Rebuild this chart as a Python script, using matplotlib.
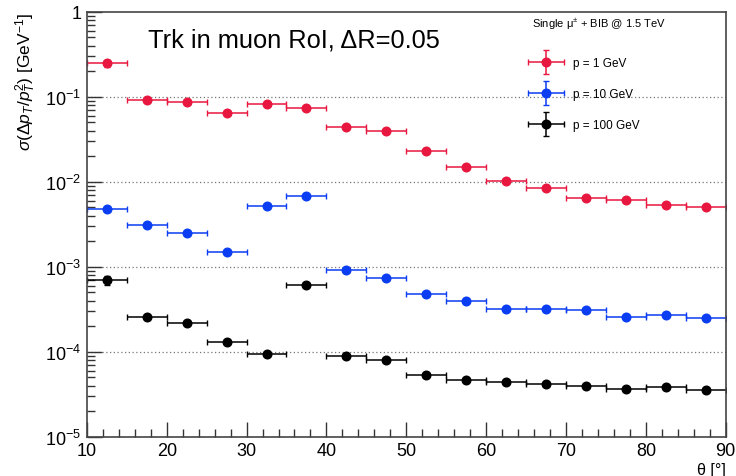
"""Track pT resolution vs theta, muon RoI, three momenta (ROOT-style log plot)."""
import numpy as np
import matplotlib
matplotlib.use("Agg")
import matplotlib.pyplot as plt
from matplotlib.legend_handler import HandlerErrorbar
from matplotlib.ticker import FixedLocator, LogLocator, MultipleLocator, NullFormatter

plt.rcParams["font.family"] = ["Liberation Sans", "DejaVu Sans"]
plt.rcParams["mathtext.fontset"] = "custom"
plt.rcParams["mathtext.rm"] = "Liberation Sans"
plt.rcParams["mathtext.it"] = "Liberation Sans:italic"

# bin centres in theta [deg], half width 2.5
theta = [12.5, 17.5, 22.5, 27.5, 32.5, 37.5, 42.5, 47.5,
         52.5, 57.5, 62.5, 67.5, 72.5, 77.5, 82.5, 87.5]
theta_err = [2.5] * len(theta)

res_1gev = [0.25, 0.092, 0.087, 0.065, 0.083, 0.074, 0.044, 0.040,
            0.023, 0.015, 0.0102, 0.0085, 0.0065, 0.0061, 0.0054, 0.0051]
res_10gev = [0.0048, 0.0031, 0.0025, 0.0015, 0.0052, 0.0069, 0.00093, 0.00074,
             0.00048, 0.00040, 0.00032, 0.00032, 0.00031, 0.00026, 0.00027, 0.00025]
res_100gev = [0.0007, 0.00026, 0.00022, 0.00013, 0.000095, 0.00061, 0.00009, 0.000081,
              0.000054, 0.000047, 0.000044, 0.000042, 0.00004, 0.000037, 0.000039, 0.000036]

err_1gev = [0.025] + [0.0] * 15
err_10gev = [0.0003] + [0.0] * 15
err_100gev = [0.00009] + [0.0] * 15

series = [
    ("p = 1 GeV", res_1gev, err_1gev, "#e8173f"),
    ("p = 10 GeV", res_10gev, err_10gev, "#0b3df2"),
    ("p = 100 GeV", res_100gev, err_100gev, "#000000"),
]

fig = plt.figure(figsize=(7.36, 4.77), dpi=100)
ax = fig.add_axes([0.118, 0.082, 0.868, 0.891])

handles = []
for label, vals, errs, col in series:
    h = ax.errorbar(theta, vals, xerr=theta_err, yerr=errs, fmt="o", color=col,
                    ms=6.2, elinewidth=1.1, capsize=2.2, capthick=1.0, label=label)
    handles.append(h)

ax.set_yscale("log")
ax.set_xlim(10, 90)
ax.set_ylim(1e-5, 1)

decades = [1e-5, 1e-4, 1e-3, 1e-2, 1e-1, 1]
ax.yaxis.set_major_locator(FixedLocator(decades))
ax.set_yticklabels([r"$10^{-5}$", r"$10^{-4}$", r"$10^{-3}$", r"$10^{-2}$", r"$10^{-1}$", "1"])
ax.yaxis.set_minor_locator(LogLocator(base=10, subs=np.arange(2, 10), numticks=20))
ax.yaxis.set_minor_formatter(NullFormatter())
ax.xaxis.set_major_locator(MultipleLocator(10))
ax.xaxis.set_minor_locator(MultipleLocator(2))

ax.tick_params(which="both", direction="in", top=False, right=False, labelsize=13,
               width=1.0, color="#333333")
ax.tick_params(which="major", length=11, pad=4)
ax.tick_params(which="minor", length=6)
for sp in ax.spines.values():
    sp.set_linewidth(1.2)
    sp.set_color("#444444")

for d in decades[1:-1]:
    ax.axhline(d, color="#777777", lw=0.9, ls=(0, (1, 2)), zorder=0)

ax.set_ylabel(r"$\sigma(\Delta p_{T}/p_{T}^{2})$ [GeV$^{-1}$]", fontsize=12.5,
              loc="top", labelpad=5)
ax.set_xlabel("θ [°]", fontsize=11.5, loc="right", labelpad=2)

ax.text(0.095, 0.935, "Trk in muon RoI, ΔR=0.05", transform=ax.transAxes,
        fontsize=18.3, ha="left", va="center")

ax.text(0.801, 0.972, "Single μ$^{\\pm}$ + BIB @ 1.5 TeV", transform=ax.transAxes,
        fontsize=8, ha="center", va="center")
leg = ax.legend(handles=handles, loc="upper left", bbox_to_anchor=(0.689, 0.894),
                frameon=False, fontsize=8.5, handlelength=3.2, labelspacing=1.62,
                borderaxespad=0, borderpad=0, handletextpad=0.7,
                handler_map={type(handles[0]): HandlerErrorbar(xerr_size=1.55, yerr_size=1.0)})

fig.savefig("out.png", dpi=100)
